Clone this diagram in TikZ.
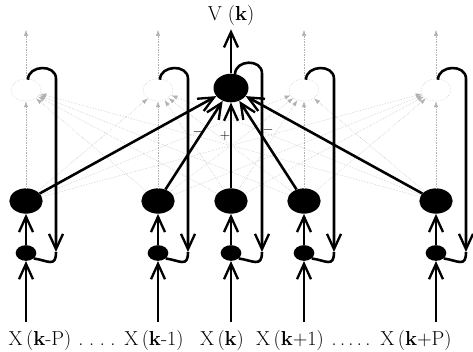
\documentclass[tikz,border=0pt]{standalone}
\usetikzlibrary{arrows.meta,positioning,calc,shapes.geometric}
\begin{document}
\begin{tikzpicture}[x=0.03cm, y=-0.03cm,
    big/.style={ellipse, fill=black, minimum width=1.0cm, minimum height=0.76cm, inner sep=0pt},
    sml/.style={ellipse, fill=black, minimum width=0.62cm, minimum height=0.47cm, inner sep=0pt},
    ghost/.style={ellipse, draw=gray!50, densely dotted, minimum width=0.9cm, minimum height=0.66cm, inner sep=0pt},
    fwd/.style={line width=2.2pt, -{Straight Barb[length=4.6mm,width=4.2mm,line width=2pt]}},
    fb/.style={line width=2.2pt},
    mesh/.style={gray!60, densely dotted, thin, -{Latex[length=1.8mm,width=1.3mm]}},
    lbl/.style={font=\LARGE},
    inp/.style={font=\LARGE, anchor=base},
]
    \useasboundingbox (0,0) rectangle (473,351);

    % output node and its delayed copies
    \node[big, minimum width=1.05cm, minimum height=0.86cm] (h0) at (231,88) {};
    \node[ghost] (g1) at (26,90) {};
    \node[ghost] (g2) at (158,90) {};
    \node[ghost] (g4) at (304,90) {};
    \node[ghost] (g5) at (436,90) {};
    \node[lbl] (vk) at (231,15) {V (\textbf{k})};

    % hidden units
    \node[big] (b1) at (26,201) {};
    \node[big] (b2) at (158,201) {};
    \node[big] (b3) at (231,201) {};
    \node[big] (b4) at (304,201) {};
    \node[big] (b5) at (436,201) {};

    % context units
    \node[sml] (s1) at (26,253) {};
    \node[sml] (s2) at (158,253) {};
    \node[sml] (s3) at (231,253) {};
    \node[sml] (s4) at (304,253) {};
    \node[sml] (s5) at (436,253) {};

    % inputs
    \node[inp] (x1) at (40,345) {X\,(\textbf{k}-P)};
    \node[inp] (d1) at (97,345) {.\;.\;.\;.};
    \node[inp] (x2) at (154,345) {X\,(\textbf{k}-1)};
    \node[inp] (x3) at (222,345) {X\,(\textbf{k})};
    \node[inp] (x4) at (290,345) {X\,(\textbf{k}+1)};
    \node[inp] (d2) at (351,345) {.\,.\,.\,.\,.};
    \node[inp] (x5) at (416,345) {X\,(\textbf{k}+P)};
    \coordinate (i1) at (26,322);
    \coordinate (i2) at (158,322);
    \coordinate (i3) at (231,322);
    \coordinate (i4) at (304,322);
    \coordinate (i5) at (436,322);

    % feedback ends
    \coordinate (f1) at (56,252);
    \coordinate (f2) at (188,252);
    \coordinate (f3) at (262,252);
    \coordinate (f4) at (334,252);
    \coordinate (f5) at (466,252);

    % dotted mesh to the delayed copies
    \foreach \i in {1,...,5}
        \foreach \j in {1,2,4,5}
            \draw[mesh] (b\i) -- (g\j);
    \foreach \j in {1,2,4,5}
        \draw[mesh] (g\j.north) -- ++(0,-49);

    % feed forward
    \foreach \i in {1,...,5} {
        \draw[fwd] (i\i) -- (s\i.south);
        \draw[fwd] (s\i.north) -- (b\i.south);
        \draw[fwd] (b\i) -- (h0);
    }
    \draw[fwd] (h0.north) -- (vk.south);

    % feedback loops
    \foreach \j in {1,2,4,5}
        \draw[fwd] ($(g\j.north)+(2,1)$) .. controls +(0,-15) and +(0,-15) .. (f\j |- g\j.north) -- (f\j);
    \draw[fwd] ($(h0.north)+(4,1)$) .. controls +(0,-15) and +(0,-15) .. (f3 |- h0.north) -- (f3);
    \foreach \i in {1,...,5}
        \draw[fb] (f\i) .. controls +(0,16) and +(14,2) .. (s\i.-35);

    \node[font=\large] (m1) at (198,132) {$-$};
    \node[font=\large] (p1) at (225,136) {$+$};
    \node[font=\large] (m2) at (268,130) {$-$};
\end{tikzpicture}
\end{document}
